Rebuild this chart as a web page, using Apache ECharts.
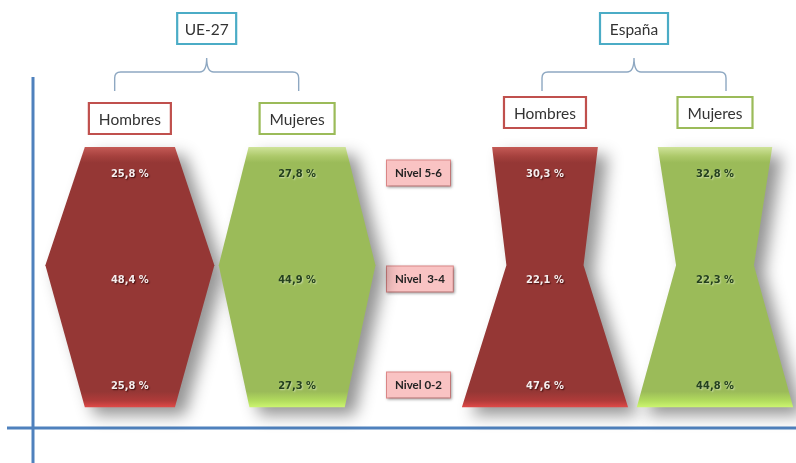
<!DOCTYPE html>
<html><head><meta charset="utf-8">
<script src="https://cdn.jsdelivr.net/npm/echarts@6/dist/echarts.min.js"></script>
<style>html,body{margin:0;padding:0;background:#fff}#c{width:796px;height:463px}</style>
</head><body><div id="c"></div>
<script>
// ---- data ----
const niveles = ['Nivel 0-2', 'Nivel  3-4', 'Nivel 5-6'];
const regiones = ['UE-27', 'España'];
const sexos = ['Hombres', 'Mujeres', 'Hombres', 'Mujeres'];
const regionDe = [0, 0, 1, 1];
const nivel56 = [25.8, 27.8, 30.3, 32.8];
const nivel34 = [48.4, 44.9, 22.1, 22.3];
const nivel02 = [25.8, 27.3, 47.6, 44.8];

// ---- layout (x positions in axis units = percentage points) ----
const X_MAX = 228;
const centros = [37.2, 85.1, 156.1, 204.8];
const centrosRegion = [59.2, 181.6];

const fmt = v => v.toFixed(1).replace('.', ',') + ' %';
const NARROW = "'DejaVu Sans Condensed', 'Liberation Sans Narrow', 'Liberation Sans', sans-serif";

const estilos = {
  Hombres: {
    fill: {type: 'linear', x: 0, y: 0, x2: 0, y2: 1, colorStops: [
      {offset: 0, color: '#c45a55'}, {offset: 0.035, color: '#a6413e'}, {offset: 0.06, color: '#953735'},
      {offset: 0.94, color: '#953735'}, {offset: 0.975, color: '#b03b3a'}, {offset: 1, color: '#e04a48'}]},
    text: '#f6eeee', shadow: 'rgba(40,0,0,0.8)', border: '#c0504d'
  },
  Mujeres: {
    fill: {type: 'linear', x: 0, y: 0, x2: 0, y2: 1, colorStops: [
      {offset: 0, color: '#cfe39a'}, {offset: 0.035, color: '#adc96a'}, {offset: 0.06, color: '#9bbb59'},
      {offset: 0.94, color: '#9bbb59'}, {offset: 0.975, color: '#b2dc5e'}, {offset: 1, color: '#ccf570'}]},
    text: '#24401f', shadow: 'rgba(255,255,255,0.45)', border: '#9bbb59'
  }
};

const chart = echarts.init(document.getElementById('c'), null, {renderer: 'canvas'});

const shapeData = sexos.map((s, i) => [centros[i], 1, nivel02[i], nivel34[i], nivel56[i], i]);
const boxData = sexos.map((s, i) => [centros[i], 1, i]);
const regionData = regiones.map((r, j) => [centrosRegion[j], 1, j]);

chart.setOption({
  animation: false,
  backgroundColor: '#ffffff',
  grid: {left: 0, right: 0, top: 120, bottom: 25},
  xAxis: {type: 'value', min: 0, max: X_MAX, show: false},
  yAxis: {
    type: 'category', data: niveles, position: 'left', offset: -387,
    axisLine: {show: false}, axisTick: {show: false}, splitLine: {show: false},
    axisLabel: {
      inside: true, margin: 0, align: 'left',
      fontFamily: 'Lato', fontWeight: 'bold', fontSize: 11.5, color: '#222',
      backgroundColor: '#f9c3c3', borderColor: '#e08a8a', borderWidth: 1,
      padding: [7, 8, 6, 8],
      shadowColor: 'rgba(0,0,0,0.3)', shadowBlur: 3, shadowOffsetX: 1, shadowOffsetY: 1
    }
  },
  graphic: [
    {type: 'line', shape: {x1: 33, y1: 77, x2: 33, y2: 463}, style: {stroke: '#4f81bd', lineWidth: 3}, z: 1},
    {type: 'line', shape: {x1: 7, y1: 428, x2: 796, y2: 428}, style: {stroke: '#4f81bd', lineWidth: 3}, z: 1}
  ],
  series: [
    {
      type: 'custom', name: 'formas', clip: false, z: 3,
      encode: {x: 0, y: 1},
      data: shapeData,
      renderItem: (params, api) => {
        const cx = api.value(0);
        const v02 = api.value(2), v34 = api.value(3), v56 = api.value(4);
        const i = api.value(5);
        const st = estilos[sexos[i]];
        const band = api.size([0, 1])[1];
        const yL0 = api.coord([cx, 0])[1], yL1 = api.coord([cx, 1])[1], yL2 = api.coord([cx, 2])[1];
        const yT = yL2 - 0.245 * band, yM = yL1 - 0.13 * band, yB = yL0 + 0.21 * band;
        const xa = dx => api.coord([cx + dx, 0])[0];
        const pts = [
          [xa(-v56 / 2), yT], [xa(v56 / 2), yT], [xa(v34 / 2), yM],
          [xa(v02 / 2), yB], [xa(-v02 / 2), yB], [xa(-v34 / 2), yM]
        ];
        const xc = xa(0);
        const mk = (v, y) => ({
          type: 'text', z2: 10,
          style: {
            x: xc, y: y + 1, text: fmt(v), align: 'center', verticalAlign: 'middle',
            fontFamily: NARROW, fontWeight: 'bold', fontSize: 11,
            fill: st.text, textShadowColor: st.shadow, textShadowBlur: 1.5,
            textShadowOffsetX: 1, textShadowOffsetY: 1
          }
        });
        return {
          type: 'group',
          children: [
            {type: 'polygon', shape: {points: pts},
              style: {fill: st.fill, shadowColor: 'rgba(0,0,0,0.42)', shadowBlur: 16, shadowOffsetX: 10, shadowOffsetY: 8}},
            mk(v56, yL2), mk(v34, yL1), mk(v02, yL0)
          ]
        };
      }
    },
    {
      type: 'custom', name: 'cajas', clip: false, z: 4,
      encode: {x: 0, y: 1},
      data: boxData,
      renderItem: (params, api) => {
        const i = api.value(2);
        const x = api.coord([api.value(0), 0])[0];
        const st = estilos[sexos[i]];
        const w = sexos[i] === 'Hombres' ? 82 : 75;
        const y0 = regionDe[i] === 0 ? 103 : 97;
        const h = 31;
        return {
          type: 'group', children: [
            {type: 'rect', shape: {x: x - w / 2, y: y0, width: w, height: h},
              style: {fill: '#fff', stroke: st.border, lineWidth: 2.2}},
            {type: 'text', style: {x: x, y: y0 + h / 2 + 1, text: sexos[i], align: 'center', verticalAlign: 'middle',
              fontFamily: 'Lato', fontSize: 15.5, fill: '#333'}}
          ]
        };
      }
    },
    {
      type: 'custom', name: 'regiones', clip: false, z: 4,
      encode: {x: 0, y: 1},
      data: regionData,
      renderItem: (params, api) => {
        const j = api.value(2);
        const x = api.coord([api.value(0), 0])[0];
        const w = j === 0 ? 59 : 68;
        const L = x - 92, R = x + 92;
        const path = `M${L},91 L${L},78 Q${L},72 ${L + 6},72 L${x - 7},72 Q${x},72 ${x},58 Q${x},72 ${x + 7},72 L${R - 6},72 Q${R},72 ${R},78 L${R},91`;
        return {
          type: 'group', children: [
            {type: 'path', shape: {pathData: path}, style: {fill: 'none', stroke: '#8ea8c2', lineWidth: 1.4}},
            {type: 'rect', shape: {x: x - w / 2, y: 13, width: w, height: 31},
              style: {fill: '#fff', stroke: '#4bacc6', lineWidth: 2.2}},
            {type: 'text', style: {x: x, y: 29.5, text: regiones[j], align: 'center', verticalAlign: 'middle',
              fontFamily: 'Lato', fontSize: 15.5, fill: '#333'}}
          ]
        };
      }
    }
  ]
});
</script></body></html>
